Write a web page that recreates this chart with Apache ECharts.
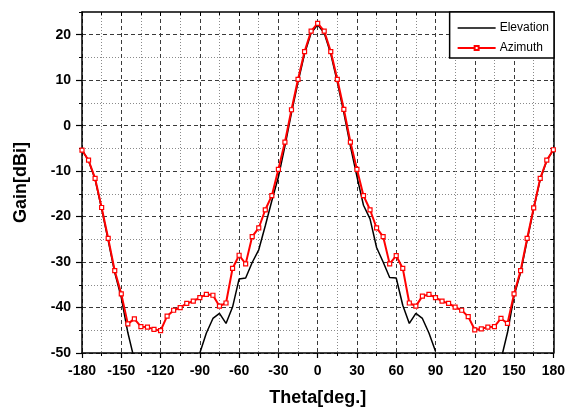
<!DOCTYPE html>
<html>
<head>
<meta charset="utf-8">
<script src="https://cdn.jsdelivr.net/npm/echarts@6/dist/echarts.min.js"></script>
<style>
  html, body { margin: 0; padding: 0; background: #fff; }
  #chart { width: 568px; height: 412px; }
</style>
</head>
<body>
<div id="chart"></div>
<script>
// Antenna radiation pattern: gain versus angle
const theta = [
  -180, -175, -170, -165, -160, -155, -150, -145, -140, -135, -130, -125,
  -120, -115, -110, -105, -100, -95, -90, -85, -80, -75, -70, -65,
  -60, -55, -50, -45, -40, -35, -30, -25, -20, -15, -10, -5,
  0, 5, 10, 15, 20, 25, 30, 35, 40, 45, 50, 55,
  60, 65, 70, 75, 80, 85, 90, 95, 100, 105, 110, 115,
  120, 125, 130, 135, 140, 145, 150, 155, 160, 165, 170, 175, 180
];

// Elevation cut (null where the pattern falls below the plotted range)
const elevation = [
  -5.3, -7.7, -11.8, -18.3, -25.2, -32.3, -37.8, -45.5, -51.5, null, null, null,
  null, null, null, null, null, null, -50.0, -45.6, -42.4, -41.3, -43.5, -39.9,
  -33.7, -33.5, -30.1, -27.3, -22.0, -16.5, -11.3, -4.5, 2.8, 9.6, 15.8, 20.4,
  22.2, 20.4, 15.8, 9.6, 2.8, -4.5, -11.2, -17.5, -20.5, -26.8, -30.0, -33.4,
  -33.5, -39.5, -43.5, -41.3, -42.4, -45.6, -49.6, null, null, null, null, null,
  null, null, null, null, -51.5, -45.5, -37.5, -32.3, -25.2, -18.3, -11.8, -7.7, -5.3
];

// Azimuth cut
const azimuth = [
  -5.4, -7.6, -11.6, -18.0, -24.8, -31.9, -37.0, -43.6, -42.5, -44.2, -44.3, -44.8,
  -45.1, -41.9, -40.6, -40.0, -39.1, -38.6, -37.8, -37.1, -37.3, -39.7, -39.0, -31.4,
  -28.5, -30.4, -24.4, -22.5, -18.5, -15.4, -9.6, -3.6, 3.5, 10.2, 16.3, 20.8,
  22.5, 20.8, 16.3, 10.2, 3.6, -3.6, -9.6, -15.4, -18.5, -22.5, -24.4, -30.4,
  -28.6, -31.4, -39.0, -39.7, -37.5, -37.1, -37.8, -38.6, -39.1, -39.9, -40.6, -42.0,
  -44.9, -44.7, -44.3, -44.2, -42.4, -43.5, -37.0, -31.9, -24.8, -18.1, -11.6, -7.6, -5.3
];

const xTicks = [-180, -150, -120, -90, -60, -30, 0, 30, 60, 90, 120, 150, 180];
const yTicks = [-50, -40, -30, -20, -10, 0, 10, 20];

const pairs = (ys) => theta.map((t, i) => [t, ys[i]]);

const FONT = 'Liberation Sans, Arial, sans-serif';
const MAJOR = '#3a3a3a';
const MINOR = '#8a8a8a';
const labelStyle = { fontFamily: FONT, fontWeight: 'bold', fontSize: 14, color: '#000' };

const chart = echarts.init(document.getElementById('chart'), null, { renderer: 'canvas' });

chart.setOption({
  animation: false,
  backgroundColor: '#fff',
  grid: { left: 82, right: 14, top: 12, bottom: 57, containLabel: false },
  legend: {
    right: 14,
    top: 12,
    orient: 'vertical',
    backgroundColor: '#fff',
    borderColor: '#000',
    borderWidth: 1.5,
    borderRadius: 0,
    padding: [10, 5, 4, 7],
    itemWidth: 38,
    itemHeight: 5,
    itemGap: 8,
    textStyle: { fontFamily: FONT, fontSize: 12, color: '#000', padding: [0, 0, 0, -1] },
    data: [
      { name: 'Elevation', icon: 'path://M0,0 H38 V1.5 H0 Z' },
      { name: 'Azimuth' }
    ]
  },
  xAxis: [
    {
      type: 'value',
      position: 'bottom',
      min: xTicks[0],
      max: xTicks[xTicks.length - 1],
      interval: 30,
      axisLine: { show: true, onZero: false, lineStyle: { color: '#000', width: 1.5 } },
      axisTick: { show: true, inside: false, length: 5, lineStyle: { color: '#000', width: 1.2 } },
      minorTick: { show: true, splitNumber: 2, length: 3, lineStyle: { color: '#000', width: 1 } },
      axisLabel: Object.assign({ margin: 11, formatter: (v) => String(v) }, labelStyle),
      splitLine: { show: true, lineStyle: { color: MAJOR, width: 1, type: [4, 3] } },
      minorSplitLine: { show: true, lineStyle: { color: MINOR, width: 1, type: [1, 2] } },
      name: 'Theta[deg.]',
      nameLocation: 'middle',
      nameGap: 36,
      nameTextStyle: { fontFamily: FONT, fontWeight: 'bold', fontSize: 18, color: '#000' }
    },
    {
      type: 'value',
      position: 'top',
      min: xTicks[0],
      max: xTicks[xTicks.length - 1],
      interval: 30,
      axisLine: { show: true, onZero: false, lineStyle: { color: '#000', width: 1.5 } },
      axisTick: { show: true, inside: true, length: 4, lineStyle: { color: '#000', width: 1 } },
      minorTick: { show: true, splitNumber: 2, length: 3, lineStyle: { color: '#000', width: 1 } },
      axisLabel: { show: false },
      splitLine: { show: false }
    }
  ],
  yAxis: [
    {
      type: 'value',
      position: 'left',
      min: yTicks[0],
      max: 25,
      interval: 10,
      axisLine: { show: true, onZero: false, lineStyle: { color: '#000', width: 1.5 } },
      axisTick: { show: true, inside: false, length: 6, lineStyle: { color: '#000', width: 1.2 } },
      axisLabel: Object.assign({ margin: 11, showMaxLabel: false, formatter: (v) => String(v) }, labelStyle),
      splitLine: { show: true, showMaxLine: false, lineStyle: { color: MAJOR, width: 1, type: [4, 3] } },
      name: 'Gain[dBi]',
      nameLocation: 'middle',
      nameGap: 52,
      nameTextStyle: { fontFamily: FONT, fontWeight: 'bold', fontSize: 18, color: '#000' }
    },
    {
      // 5 dB minor ticks and dotted minor grid lines
      type: 'value',
      position: 'left',
      min: yTicks[0],
      max: 25,
      interval: 5,
      axisLine: { show: false, onZero: false },
      axisTick: { show: true, inside: false, length: 3, lineStyle: { color: '#000', width: 1 } },
      axisLabel: { show: false },
      splitLine: { show: true, showMinLine: false, showMaxLine: false, lineStyle: { color: [MINOR, 'rgba(0,0,0,0)'], width: 1, type: [1, 2] } }
    },
    {
      type: 'value',
      position: 'right',
      min: yTicks[0],
      max: 25,
      interval: 5,
      axisLine: { show: true, onZero: false, lineStyle: { color: '#000', width: 1.5 } },
      axisTick: { show: true, inside: true, length: 3, lineStyle: { color: '#000', width: 1 } },
      axisLabel: { show: false },
      splitLine: { show: false }
    }
  ],
  series: [
    {
      name: 'Elevation',
      type: 'line',
      xAxisIndex: 0,
      yAxisIndex: 0,
      data: pairs(elevation),
      symbol: 'none',
      connectNulls: false,
      clip: true,
      color: '#000',
      lineStyle: { color: '#000', width: 1.5 },
      itemStyle: { color: '#000' },
      z: 3
    },
    {
      name: 'Azimuth',
      type: 'line',
      xAxisIndex: 0,
      yAxisIndex: 0,
      data: pairs(azimuth),
      symbol: 'rect',
      symbolSize: 4,
      showAllSymbol: true,
      clip: true,
      color: '#ff0000',
      lineStyle: { color: '#ff0000', width: 2 },
      itemStyle: { color: '#fff', borderColor: '#ff0000', borderWidth: 1.2 },
      z: 4
    }
  ]
});
</script>
</body>
</html>
